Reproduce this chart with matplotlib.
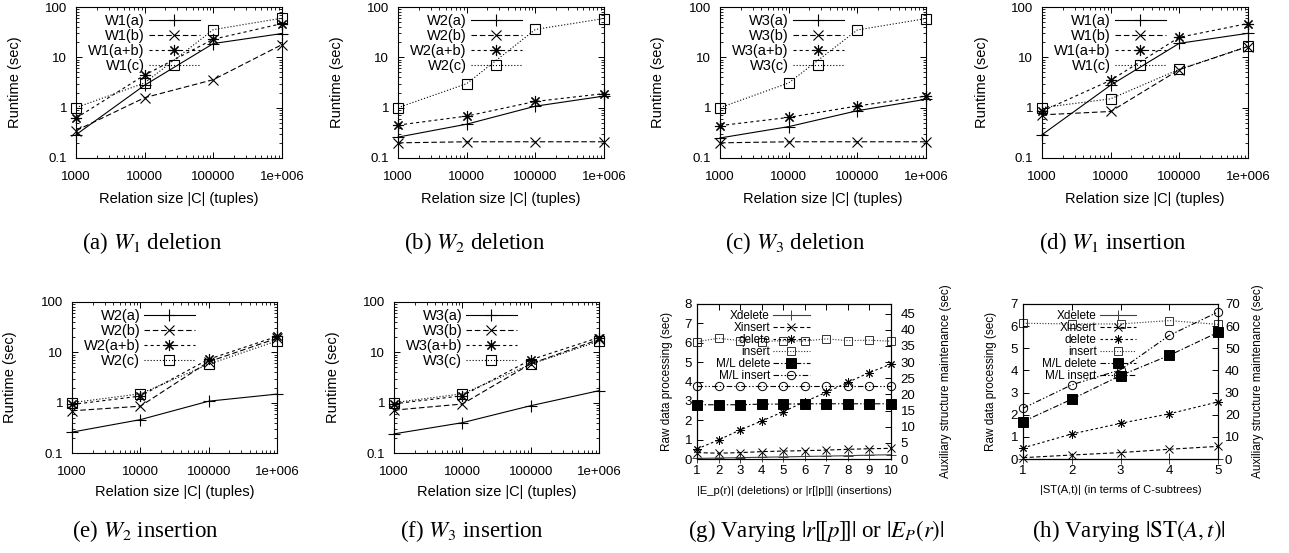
import numpy as np
import matplotlib
matplotlib.use("Agg")
import matplotlib.pyplot as plt
from matplotlib.ticker import FixedLocator, FixedFormatter, LogLocator, NullFormatter, MultipleLocator

plt.rcParams['font.family'] = ['Liberation Sans', 'DejaVu Sans']
plt.rcParams['mathtext.fontset'] = 'stix'
plt.rcParams['lines.scale_dashes'] = False

# ---- data ----
sizes = [1000, 10000, 100000, 1000000]
size_labels = ["1000", "10000", "100000", "1e+006"]
rt_ticks = [0.1, 1, 10, 100]
rt_labels = ["0.1", "1", "10", "100"]

# (a) W1 deletion
w1_del_a = [0.29, 2.8, 18.8, 29.7]
w1_del_b = [0.35, 1.58, 3.6, 17.9]
w1_del_ab = [0.62, 4.45, 22.9, 46.8]
w1_del_c = [1.0, 3.1, 35.5, 60]
# (b) W2 deletion
w2_del_a = [0.26, 0.47, 1.07, 1.7]
w2_del_b = [0.2, 0.21, 0.21, 0.21]
w2_del_ab = [0.45, 0.68, 1.33, 1.9]
w2_del_c = [1.0, 3.0, 35.8, 59]
# (c) W3 deletion
w3_del_a = [0.25, 0.42, 0.87, 1.47]
w3_del_b = [0.2, 0.21, 0.21, 0.21]
w3_del_ab = [0.44, 0.64, 1.08, 1.7]
w3_del_c = [1.0, 3.1, 35, 59]
# (d) W1 insertion
w1_ins_a = [0.29, 2.8, 19, 30]
w1_ins_b = [0.72, 0.84, 5.7, 16.4]
w1_ins_ab = [0.85, 3.5, 25, 47]
w1_ins_c = [1.0, 1.5, 5.8, 16.5]
# (e) W2 insertion
w2_ins_a = [0.26, 0.46, 1.07, 1.48]
w2_ins_b = [0.69, 0.85, 6.5, 19]
w2_ins_ab = [0.92, 1.35, 7.3, 20.7]
w2_ins_c = [1.0, 1.5, 5.8, 16.9]
# (f) W3 insertion
w3_ins_a = [0.24, 0.4, 0.87, 1.73]
w3_ins_b = [0.71, 0.94, 5.9, 18]
w3_ins_ab = [0.95, 1.37, 7.1, 19.7]
w3_ins_c = [1.0, 1.5, 5.8, 16.7]

# (g) varying |r[[p]]| or |E_P(r)|
g_x = [1, 2, 3, 4, 5, 6, 7, 8, 9, 10]
g_xdelete = [0.03, 0.05, 0.07, 0.09, 0.11, 0.13, 0.15, 0.17, 0.2, 0.22]
g_xinsert = [0.33, 0.3, 0.33, 0.38, 0.41, 0.43, 0.46, 0.5, 0.53, 0.55]
g_delete = [0.52, 0.98, 1.5, 1.96, 2.44, 2.96, 3.44, 3.96, 4.46, 4.9]
g_insert = [6.06, 6.23, 6.11, 6.06, 6.11, 6.09, 6.2, 6.11, 6.13, 6.08]
g_ml_delete = [16.8, 16.8, 16.8, 17.0, 17.0, 17.1, 17.1, 17.1, 17.1, 17.1]
g_ml_insert = [22.7, 22.7, 22.7, 22.7, 22.7, 22.7, 22.7, 22.7, 22.7, 22.7]

# (h) varying |ST(A,t)|
h_x = [1, 2, 3, 4, 5]
h_xdelete = [0.02, 0.02, 0.02, 0.02, 0.02]
h_xinsert = [0.06, 0.18, 0.29, 0.44, 0.57]
h_delete = [0.5, 1.13, 1.61, 2.04, 2.58]
h_insert = [6.13, 6.1, 6.1, 6.25, 6.08]
h_ml_delete = [16.9, 27.0, 37.7, 46.8, 57.2]
h_ml_insert = [22.9, 33.5, 40.3, 55.8, 66.4]

W, H = 1289, 553
fig = plt.figure(figsize=(W / 100, H / 100), dpi=100)


def px_axes(l, t, r, b):
    return fig.add_axes([l / W, 1 - b / H, (r - l) / W, (b - t) / H])


styles = [
    dict(ls='-', marker='+', ms=8),
    dict(ls=(0, (4, 2)), marker='x', ms=7),
    dict(ls=(0, (2.2, 2.2)), marker=(8, 2, 0), ms=8),
    dict(ls=(0, (0.8, 1.4)), marker='s', ms=7, mfc='none'),
]


def runtime_panel(box, series, names, ylab_x, xlab_y):
    ax = px_axes(*box)
    for s, n, st in zip(series, names, styles):
        ax.plot(sizes, s, color='k', lw=0.8, mew=0.8, label=n, clip_on=False, **st)
    ax.set_xscale('log')
    ax.set_yscale('log')
    ax.set_xlim(1000, 1e6)
    ax.set_ylim(0.1, 100)
    ax.xaxis.set_major_locator(FixedLocator(sizes))
    ax.xaxis.set_major_formatter(FixedFormatter(size_labels))
    ax.xaxis.set_minor_locator(LogLocator(base=10, subs=np.arange(2, 10)))
    ax.xaxis.set_minor_formatter(NullFormatter())
    ax.yaxis.set_major_locator(FixedLocator(rt_ticks))
    ax.yaxis.set_major_formatter(FixedFormatter(rt_labels))
    ax.yaxis.set_minor_locator(LogLocator(base=10, subs=np.arange(2, 10)))
    ax.yaxis.set_minor_formatter(NullFormatter())
    ax.tick_params(which='both', direction='in', top=True, right=True, labelsize=9.5)
    ax.tick_params(which='major', length=4, width=0.7)
    ax.tick_params(which='minor', length=2, width=0.6)
    ax.tick_params(axis='x', pad=9.5)
    ax.tick_params(axis='y', pad=6.5)
    ax.set_ylabel("Runtime (sec)", fontsize=10.5)
    ax.set_xlabel("Relation size |C| (tuples)", fontsize=10.5)
    ax.yaxis.set_label_coords(ylab_x, 0.5)
    ax.xaxis.set_label_coords(0.5, xlab_y)
    for sp in ax.spines.values():
        sp.set_linewidth(0.8)
    ax.legend(loc='upper right', bbox_to_anchor=(0.6, 0.955), frameon=False,
              markerfirst=False, fontsize=10.5, handlelength=3.5,
              handletextpad=0.25, labelspacing=0.08, borderpad=0, borderaxespad=0)
    return ax


runtime_panel((76, 7, 282, 158), [w1_del_a, w1_del_b, w1_del_ab, w1_del_c],
              ["W1(a)", "W1(b)", "W1(a+b)", "W1(c)"], -0.262, -0.225)
runtime_panel((398, 7, 604, 158), [w2_del_a, w2_del_b, w2_del_ab, w2_del_c],
              ["W2(a)", "W2(b)", "W2(a+b)", "W2(c)"], -0.262, -0.225)
runtime_panel((720, 7, 926, 158), [w3_del_a, w3_del_b, w3_del_ab, w3_del_c],
              ["W3(a)", "W3(b)", "W3(a+b)", "W3(c)"], -0.267, -0.225)
runtime_panel((1042, 7, 1248, 158), [w1_ins_a, w1_ins_b, w1_ins_ab, w1_ins_c],
              ["W1(a)", "W1(b)", "W1(a+b)", "W1(c)"], -0.257, -0.225)
runtime_panel((72, 302, 277, 453), [w2_ins_a, w2_ins_b, w2_ins_ab, w2_ins_c],
              ["W2(a)", "W2(b)", "W2(a+b)", "W2(c)"], -0.268, -0.21)
runtime_panel((394, 302, 599, 453), [w3_ins_a, w3_ins_b, w3_ins_ab, w3_ins_c],
              ["W3(a)", "W3(b)", "W3(a+b)", "W3(c)"], -0.264, -0.21)


def maint_panel(box, x, left, right, names, ylim_l, ylim_r, rstep, xlabel,
                ylab_l, ylab_r, xlab_y, rpad):
    ax = px_axes(*box)
    ax2 = ax.twinx()
    lstyles = [
        dict(ls='-', marker='+', ms=7, color='0.25'),
        dict(ls=(0, (3, 1.8)), marker='x', ms=5.5, color='k'),
        dict(ls=(0, (1.8, 1.8)), marker=(8, 2, 0), ms=6, color='k'),
        dict(ls=(0, (0.8, 1.2)), marker='s', ms=6, mfc='none', color='0.2'),
    ]
    rstyles = [
        dict(ls=(0, (4, 1.5, 1, 1.5)), marker='s', ms=7, mfc='k', color='k'),
        dict(ls=(0, (4, 1.5, 1, 1.5, 1, 1.5)), marker='o', ms=6, mfc='none', color='k'),
    ]
    handles = []
    for s, st in zip(left, lstyles):
        h, = ax.plot(x, s, lw=0.8, mew=0.7, clip_on=False, **st)
        handles.append(h)
    for s, st in zip(right, rstyles):
        h, = ax2.plot(x, s, lw=0.8, mew=0.7, clip_on=False, **st)
        handles.append(h)
    ax.set_xlim(x[0], x[-1])
    ax.set_ylim(*ylim_l)
    ax2.set_ylim(*ylim_r)
    ax.set_xticks(x)
    ax.yaxis.set_major_locator(MultipleLocator(1))
    ax2.yaxis.set_major_locator(MultipleLocator(rstep))
    ax.tick_params(direction='in', top=True, labelsize=9.5, length=4, width=0.7)
    ax2.tick_params(direction='in', labelsize=9.5, length=4, width=0.7, pad=rpad)
    ax.tick_params(axis='x', pad=4)
    ax.set_xlabel(xlabel, fontsize=8)
    ax.set_ylabel("Raw data processing (sec)", fontsize=8.5)
    ax2.set_ylabel("Auxiliary structure maintenance (sec)", fontsize=8.5)
    ax.yaxis.set_label_coords(ylab_l, 0.5)
    ax2.yaxis.set_label_coords(ylab_r, 0.5)
    ax.xaxis.set_label_coords(0.5, xlab_y)
    for sp in list(ax.spines.values()) + list(ax2.spines.values()):
        sp.set_linewidth(0.8)
    ax2.legend(handles, names, loc='upper right', bbox_to_anchor=(0.58, 0.962),
               frameon=False, markerfirst=False, fontsize=8.5, handlelength=3.1,
               handletextpad=0.25, labelspacing=0.0, borderpad=0, borderaxespad=0)
    return ax


ml_names = ["Xdelete", "Xinsert", "delete", "insert", "M/L delete", "M/L insert"]
maint_panel((697, 304, 891, 459), g_x,
            [g_xdelete, g_xinsert, g_delete, g_insert], [g_ml_delete, g_ml_insert],
            ml_names, (0, 8), (0, 48), 5,
            "|E_p(r)| (deletions) or |r[|p|]| (insertions)", -0.124, 1.253, -0.174, 7)
maint_panel((1023, 304, 1218, 459), h_x,
            [h_xdelete, h_xinsert, h_delete, h_insert], [h_ml_delete, h_ml_insert],
            ml_names, (0, 7), (0, 70), 10,
            "|ST(A,t)| (in terms of C-subtrees)", -0.133, 1.174, -0.168, 5)

captions = [
    (152, 243, r"(a) $W_1$ deletion"),
    (475, 243, r"(b) $W_2$ deletion"),
    (795, 243, r"(c) $W_3$ deletion"),
    (1113, 243, r"(d) $W_1$ insertion"),
    (145, 531, r"(e) $W_2$ insertion"),
    (472, 531, r"(f) $W_3$ insertion"),
    (816, 531, r"(g) Varying $|r[\![p]\!]|$ or $|E_P(r)|$"),
    (1129, 531, r"(h) Varying $|\mathrm{ST}(A,t)|$"),
]
for cx, cy, txt in captions:
    fig.text(cx / W, 1 - cy / H, txt, ha='center', va='center', fontsize=16.5,
             family=['Liberation Serif', 'DejaVu Serif'])

fig.savefig("out.png", dpi=100)
